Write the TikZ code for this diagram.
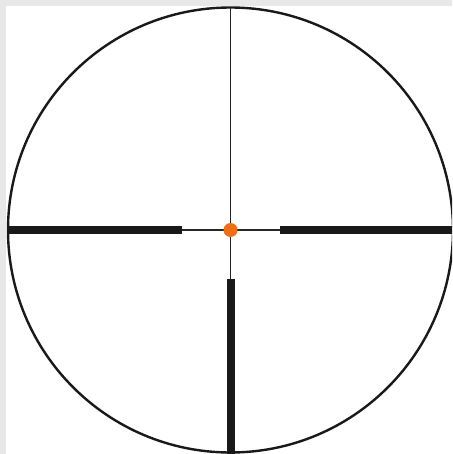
\documentclass[tikz,border=0pt]{standalone}
\begin{document}
\begin{tikzpicture}[x=1pt,y=-1pt,
  thinline/.style={line width=1.3pt, draw=black!85},
  thickbar/.style={line width=8pt, draw=black!90},
  ring/.style={line width=2.4pt, draw=black!90}]
\fill[black!9] (0,0) rectangle (452,454);
\fill[white] (6,6) rectangle (452,454);
\useasboundingbox (0,0) rectangle (452,454);
\coordinate (c) at (230.5,230);
\begin{scope}
\clip (0,0) rectangle (452,454);
\draw[ring] (c) circle[radius=222.5];
\end{scope}
\coordinate (top) at (230.5,8);
\coordinate (lt) at (8,230);
\coordinate (rt) at (452,230);
\coordinate (bt) at (230.5,454);
\coordinate (lb) at (182,230);
\coordinate (rb) at (280,230);
\coordinate (bb) at (230.5,279);
\draw[thinline] (top) -- (bb);
\draw[thinline] (lb) -- (rb);
\draw[thickbar] (lt) -- (lb);
\draw[thickbar] (rb) -- (rt);
\draw[thickbar] (bb) -- (bt);
\node[circle, fill={rgb,255:red,240;green,110;blue,20}, minimum size=14pt, inner sep=0pt] (dot) at (c) {};
\end{tikzpicture}
\end{document}
